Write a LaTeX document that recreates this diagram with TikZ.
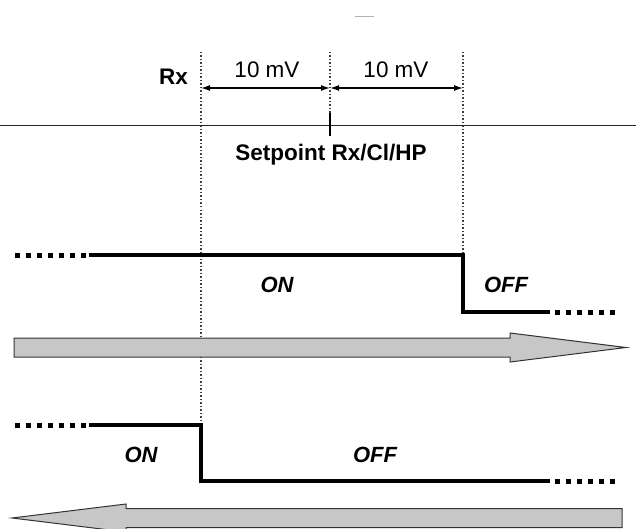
\documentclass[tikz,border=0pt]{standalone}
\usepackage{fontspec}
\setmainfont{Liberation Sans}
\usetikzlibrary{arrows.meta,positioning}

\begin{document}
\begin{tikzpicture}[x=1pt, y=-1pt,
    every node/.style={font=\fontsize{22.5}{26}\selectfont, inner sep=0pt},
    guide/.style={line width=1.3pt, black!75, dash pattern=on 1.5pt off 2pt},
    level/.style={line width=4.2pt},
    tail/.style={line width=5pt, dash pattern=on 5pt off 6pt},
    band/.style={{Latex[length=9pt,width=6pt]}-{Latex[length=9pt,width=6pt]}, line width=1.4pt},
    flow/.style={fill=black!22, draw=black!80, line width=1pt, line join=miter},
    state/.style={font=\fontsize{22}{26}\selectfont\bfseries\itshape}]
  \useasboundingbox (0,0) rectangle (636,529);
  \clip (0,0) rectangle (636,529);

  % switching points
  \coordinate (lo) at (201,52);
  \coordinate (sp) at (330,52);
  \coordinate (hi) at (463,52);
  \coordinate (loB) at (201,88);
  \coordinate (spB) at (330,88);
  \coordinate (hiB) at (463,88);

  \draw[guide] (lo) -- (201,425);
  \draw[guide] (sp) -- (330,118);
  \draw[guide] (hi) -- (463,255);

  \draw[black!85, line width=0.9pt] (0,125) -- (636,125);
  \draw[line width=2pt] (330,113) -- (330,136);
  \draw[black!30, line width=1pt] (355,17) -- (374,17);

  \draw[band] (loB) -- (spB);
  \draw[band] (spB) -- (hiB);

  \node[font=\fontsize{22.5}{26}\selectfont\bfseries, anchor=base east] (rx) at (188,85) {Rx};
  \node[anchor=base] (bandlo) at (267,78) {10 mV};
  \node[anchor=base] (bandhi) at (396,78) {10 mV};
  \node[font=\fontsize{22.5}{26}\selectfont\bfseries, anchor=base] (setpt) at (331,161) {Setpoint Rx/Cl/HP};

  % rising value
  \draw[tail] (15,255) -- (88,255);
  \draw[level] (89,255) -- (463,255) -- (463,312) -- (550,312);
  \draw[tail] (555,312) -- (616,312);
  \node[state] (onup) at (277,285) {ON};
  \node[state] (offup) at (506,285) {OFF};
  \draw[flow] (14,338) -- (510,338) -- (510,333) -- (626,347.5) -- (510,362) -- (510,357) -- (14,357) -- cycle;

  % falling value
  \draw[tail] (15,425) -- (88,425);
  \draw[level] (89,425) -- (201,425) -- (201,481) -- (550,481);
  \draw[tail] (555,481) -- (616,481);
  \node[state] (ondown) at (141,455) {ON};
  \node[state] (offdown) at (375,455) {OFF};
  \draw[flow] (622,508.5) -- (126,508.5) -- (126,504) -- (12,518) -- (126,532) -- (126,527.5) -- (622,527.5) -- cycle;
\end{tikzpicture}
\end{document}
